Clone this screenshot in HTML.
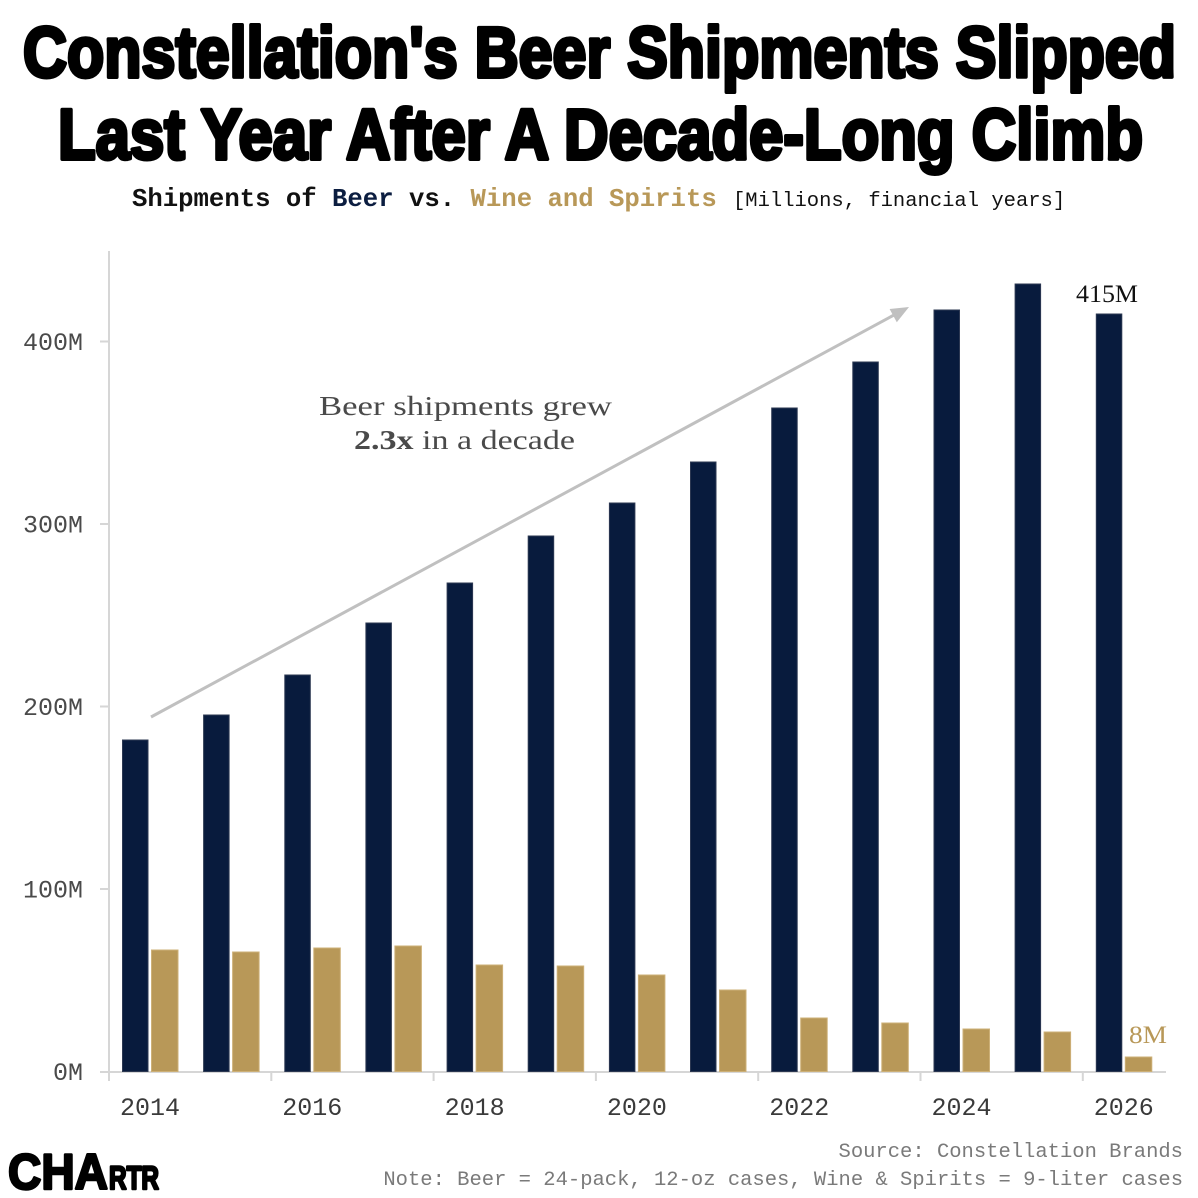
<!DOCTYPE html>
<html><head><meta charset="utf-8"><style>
html,body{margin:0;padding:0;background:#fff;}
svg{display:block;}
</style></head><body>
<svg width="1198" height="1198" viewBox="0 0 1198 1198" xmlns="http://www.w3.org/2000/svg">
<rect width="1198" height="1198" fill="#fff"/>
<!-- Title -->
<g font-family="'Liberation Sans Narrow','Liberation Sans',sans-serif" font-weight="bold" font-size="71" fill="#000" stroke="#000" stroke-width="4" stroke-linejoin="round">
<text x="23" y="77" textLength="1153" lengthAdjust="spacingAndGlyphs">Constellation's Beer Shipments Slipped</text>
<text x="58" y="159" textLength="1085" lengthAdjust="spacingAndGlyphs">Last Year After A Decade-Long Climb</text>
</g>
<!-- Subtitle -->
<text x="132" y="206" font-family="'Liberation Mono',monospace" font-weight="bold" font-size="25.65" fill="#111"><tspan>Shipments of </tspan><tspan fill="#0b1d40">Beer</tspan><tspan> vs. </tspan><tspan fill="#b89858">Wine and Spirits</tspan></text>
<text x="733" y="206" font-family="'Liberation Mono',monospace" font-size="20.5" fill="#111">[Millions, financial years]</text>

<!-- Axes -->
<line x1="109" y1="251" x2="109" y2="1081" stroke="#d6d6d6" stroke-width="2"/>
<line x1="100" y1="1072" x2="1166" y2="1072" stroke="#d6d6d6" stroke-width="2"/>
<g stroke="#d6d6d6" stroke-width="2">
<line x1="100" y1="341.5" x2="109" y2="341.5"/>
<line x1="100" y1="524" x2="109" y2="524"/>
<line x1="100" y1="706.5" x2="109" y2="706.5"/>
<line x1="100" y1="889" x2="109" y2="889"/>
<line x1="271.3" y1="1072" x2="271.3" y2="1081"/>
<line x1="433.6" y1="1072" x2="433.6" y2="1081"/>
<line x1="595.9" y1="1072" x2="595.9" y2="1081"/>
<line x1="758.2" y1="1072" x2="758.2" y2="1081"/>
<line x1="920.5" y1="1072" x2="920.5" y2="1081"/>
<line x1="1082.8" y1="1072" x2="1082.8" y2="1081"/>
</g>
<g font-family="'Liberation Mono',monospace" font-size="25" fill="#4a4a4a" text-anchor="end">
<text x="83" y="350">400M</text>
<text x="83" y="532.5">300M</text>
<text x="83" y="715">200M</text>
<text x="83" y="897.5">100M</text>
<text x="83" y="1080">0M</text>
</g>
<g font-family="'Liberation Mono',monospace" font-size="25" fill="#3a3a3a" text-anchor="middle">
<text x="150" y="1115">2014</text>
<text x="312.3" y="1115">2016</text>
<text x="474.6" y="1115">2018</text>
<text x="636.9" y="1115">2020</text>
<text x="799.2" y="1115">2022</text>
<text x="961.5" y="1115">2024</text>
<text x="1123.8" y="1115">2026</text>
</g>

<!-- Beer bars -->
<g fill="#081b3d" stroke="#2c3852" stroke-width="1">
<rect x="122.5" y="740" width="25.5" height="331.5"/>
<rect x="203.6" y="715" width="25.5" height="356.5"/>
<rect x="284.8" y="675" width="25.5" height="396.5"/>
<rect x="365.9" y="623" width="25.5" height="448.5"/>
<rect x="447.1" y="583" width="25.5" height="488.5"/>
<rect x="528.2" y="536" width="25.5" height="535.5"/>
<rect x="609.4" y="503" width="25.5" height="568.5"/>
<rect x="690.5" y="462" width="25.5" height="609.5"/>
<rect x="771.7" y="408" width="25.5" height="663.5"/>
<rect x="852.8" y="362" width="25.5" height="709.5"/>
<rect x="934.0" y="310" width="25.5" height="761.5"/>
<rect x="1015.1" y="284" width="25.5" height="787.5"/>
<rect x="1096.3" y="314" width="25.5" height="757.5"/>
</g>
<!-- Wine & Spirits bars -->
<g fill="#b89858" stroke="#cdb077" stroke-width="1">
<rect x="151.5" y="950" width="26.5" height="121.5"/>
<rect x="232.6" y="952" width="26.5" height="119.5"/>
<rect x="313.8" y="948" width="26.5" height="123.5"/>
<rect x="394.9" y="946" width="26.5" height="125.5"/>
<rect x="476.1" y="965" width="26.5" height="106.5"/>
<rect x="557.2" y="966" width="26.5" height="105.5"/>
<rect x="638.4" y="975" width="26.5" height="96.5"/>
<rect x="719.5" y="990" width="26.5" height="81.5"/>
<rect x="800.7" y="1018" width="26.5" height="53.5"/>
<rect x="881.8" y="1023" width="26.5" height="48.5"/>
<rect x="963.0" y="1029" width="26.5" height="42.5"/>
<rect x="1044.1" y="1032" width="26.5" height="39.5"/>
<rect x="1125.3" y="1057" width="26.5" height="14.5"/>
</g>

<!-- Arrow -->
<line x1="151" y1="717" x2="894" y2="315" stroke="#c0c0c0" stroke-width="3"/>
<polygon points="909,307 896.8,322.2 889.6,309" fill="#c0c0c0"/>

<!-- Annotation -->
<g font-family="'Liberation Serif',serif" font-size="27" fill="#4a4a4a">
<text x="319" y="415" textLength="293" lengthAdjust="spacingAndGlyphs">Beer shipments grew</text>
<text x="354" y="449" textLength="221" lengthAdjust="spacingAndGlyphs"><tspan font-weight="bold">2.3x</tspan> in a decade</text>
</g>
<text x="1076" y="302" font-family="'Liberation Serif',serif" font-size="25.5" fill="#111" textLength="62" lengthAdjust="spacingAndGlyphs">415M</text>
<text x="1129" y="1043" font-family="'Liberation Serif',serif" font-size="25" fill="#b89858" textLength="38" lengthAdjust="spacingAndGlyphs">8M</text>

<!-- Source -->
<g font-family="'Liberation Mono',monospace" font-size="20.5" fill="#7a7a7a" text-anchor="end">
<text x="1183" y="1157">Source: Constellation Brands</text>
<text x="1183" y="1185">Note: Beer = 24-pack, 12-oz cases, Wine &amp; Spirits = 9-liter cases</text>
</g>

<!-- Logo -->
<g font-family="'Liberation Sans',sans-serif" font-weight="bold" fill="#000" stroke="#000" stroke-width="2.5" stroke-linejoin="round">
<text x="8" y="1189" font-size="50" textLength="100" lengthAdjust="spacingAndGlyphs">CHA</text>
<text x="109" y="1189" font-size="32" textLength="50" lengthAdjust="spacingAndGlyphs">RTR</text>
</g>
</svg>
</body></html>
